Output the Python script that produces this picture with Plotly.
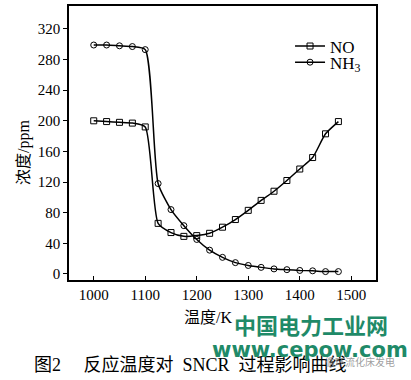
import plotly.graph_objects as go

temps = [1000, 1025, 1050, 1075, 1100, 1125, 1150, 1175, 1200, 1225, 1250, 1275,
         1300, 1325, 1350, 1375, 1400, 1425, 1450, 1475]
no_vals = [200, 199, 198, 197, 192, 66, 54, 49, 50, 53, 61, 71,
           83, 96, 108, 122, 137, 152, 183, 199]
nh3_vals = [299, 299, 298, 297, 293, 118, 84, 63, 45, 31, 21.6, 14.7,
            11, 8.5, 6.5, 5.5, 4.5, 4, 3, 3]
x_ticks = [1000, 1100, 1200, 1300, 1400, 1500]
y_ticks = [0, 40, 80, 120, 160, 200, 240, 280, 320]

serif = "Liberation Serif, Times New Roman, serif"
mixed = "Liberation Serif, Noto Sans CJK SC"
cjk = "Noto Sans CJK SC"

fig = go.Figure()
fig.add_trace(go.Scatter(
    x=temps, y=no_vals, name="NO", mode="lines+markers", legend="legend",
    line=dict(color="black", width=1.5, shape="spline", smoothing=0.6),
    marker=dict(symbol="square-open", size=6, color="black", line=dict(width=1)),
))
fig.add_trace(go.Scatter(
    x=temps, y=nh3_vals, name="NH<sub>3</sub>", mode="lines+markers", legend="legend2",
    line=dict(color="black", width=1.5, shape="spline", smoothing=0.6),
    marker=dict(symbol="circle-open", size=6, color="black", line=dict(width=1)),
))

W, H = 411, 380
L, R, T, B = 69, 35, 4, 100

leg_common = dict(xanchor="left", yanchor="top",
                  font=dict(family=serif, size=17, color="black"),
                  bgcolor="rgba(0,0,0,0)")

fig.update_layout(
    width=W, height=H,
    margin=dict(l=L, r=R, t=T, b=B),
    paper_bgcolor="white", plot_bgcolor="white",
    font=dict(family=serif, color="black", size=15),
    showlegend=True,
    legend=dict(x=0.72, y=0.918, **leg_common),
    legend2=dict(x=0.72, y=0.859, **leg_common),
    xaxis=dict(range=[952, 1548], tickvals=x_ticks, ticks="inside", ticklen=4,
               tickcolor="black", showline=True, linecolor="black", linewidth=1.5,
               mirror=True, showgrid=False, zeroline=False,
               tickfont=dict(family=serif, size=15)),
    yaxis=dict(range=[-8, 350], tickvals=y_ticks, ticks="outside", ticklen=4,
               tickcolor="black", showline=True, linecolor="black", linewidth=1.5,
               mirror=True, showgrid=False, zeroline=False,
               tickfont=dict(family=serif, size=15)),
    annotations=[
        dict(text="温度/K", x=208, y=318, xanchor="center",
             font=dict(family=mixed, size=16, color="black")),
        dict(text="浓度/ppm", x=24, y=152, xanchor="center", textangle=-90,
             font=dict(family=mixed, size=16, color="black")),
        dict(text="图2　 反应温度对  SNCR  过程影响曲线", x=32, y=366, xanchor="left",
             font=dict(family=mixed, size=18, color="black")),
        dict(text="<b>中国电力工业网</b>", x=311, y=324, xanchor="center",
             font=dict(family=cjk, size=22, color="#1f8a68")),
        dict(text="<b>www.cepow.com</b>", x=310, y=351, xanchor="center",
             font=dict(family="DejaVu Sans", size=21, color="#1f8a68")),
        dict(text="循环流化床发电", x=360, y=362, xanchor="center",
             font=dict(family=cjk, size=10, color="rgba(140,140,140,0.85)")),
    ],
)

# annotation positions above are given in pixels from the top-left; convert to paper coords
pw, ph = W - L - R, H - T - B
for a in fig.layout.annotations:
    a.xref = "paper"
    a.yref = "paper"
    a.yanchor = "middle"
    a.showarrow = False
    a.x = (a.x - L) / pw
    a.y = (H - B - a.y) / ph

fig.write_html("out.html", config={"displayModeBar": False},
               post_script="document.body.style.margin='0';")
